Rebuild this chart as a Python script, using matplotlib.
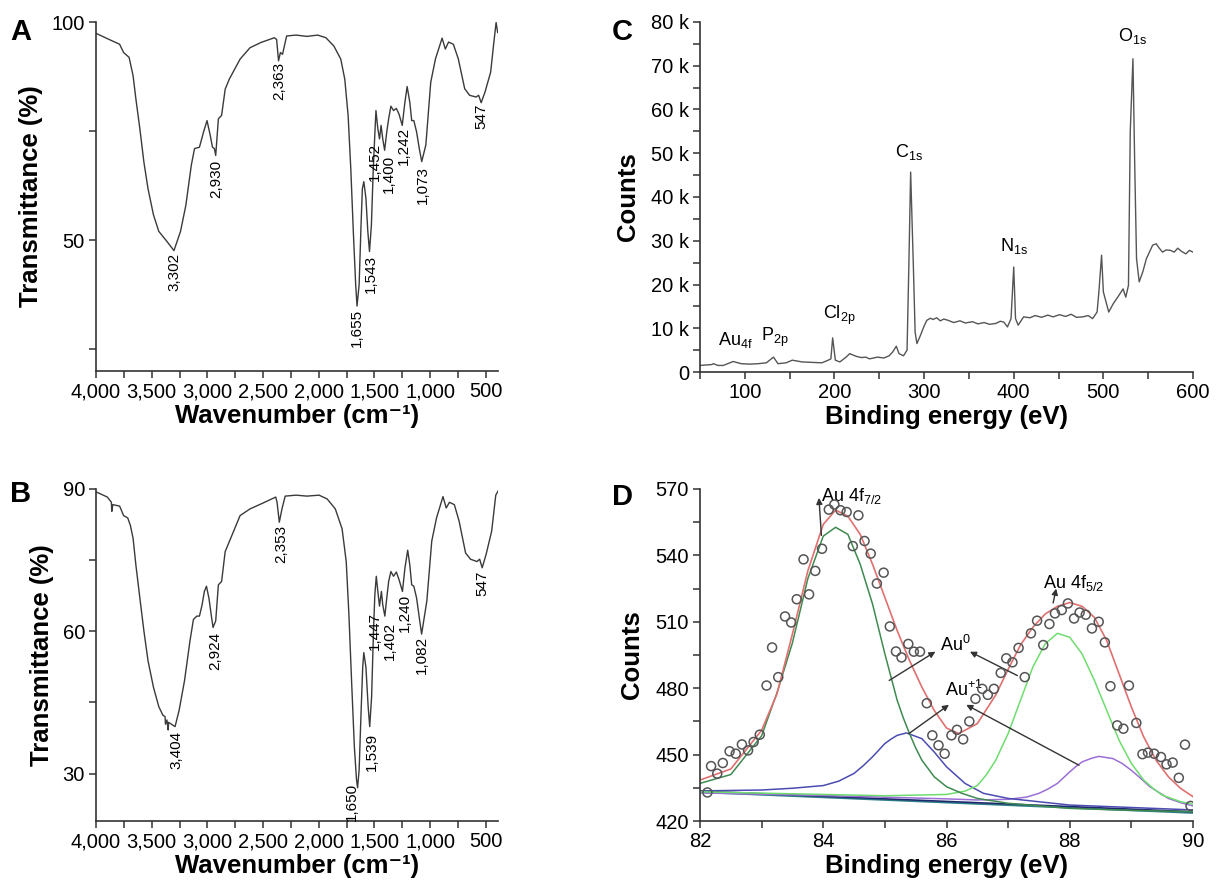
import matplotlib
matplotlib.use('Agg')
import matplotlib.pyplot as plt
from matplotlib.ticker import FuncFormatter, MultipleLocator, FixedLocator

plt.rcParams['font.family'] = ['Liberation Sans', 'DejaVu Sans']
plt.rcParams['mathtext.fontset'] = 'custom'
plt.rcParams['mathtext.rm'] = 'Liberation Sans'
plt.rcParams['mathtext.it'] = 'Liberation Sans:italic'
plt.rcParams['mathtext.bf'] = 'Liberation Sans:bold'

# ---------------- data ----------------
# Panel A: FTIR spectrum 1
a_wn = [4000, 3874, 3788, 3752, 3703, 3667, 3642, 3606, 3570, 3533, 3484, 3436, 3363, 3300,
        3241, 3193, 3144, 3115, 3071, 3034, 3003, 2974, 2954, 2937, 2925, 2901, 2872, 2840,
        2803, 2706, 2617, 2519, 2398, 2378, 2361, 2344, 2325, 2288, 2203, 2106, 2009, 1936,
        1864, 1802, 1766, 1736, 1712, 1688, 1668, 1656, 1637, 1620, 1608, 1595, 1576, 1559,
        1544, 1527, 1510, 1498, 1486, 1469, 1454, 1440, 1425, 1408, 1389, 1372, 1352, 1328,
        1303, 1279, 1250, 1226, 1206, 1182, 1165, 1146, 1121, 1097, 1075, 1038, 994, 951,
        892, 863, 834, 791, 747, 689, 645, 587, 564, 541, 506, 456, 427, 407, 393]
a_t = [97.4, 95.9, 94.9, 93.0, 91.9, 87.7, 82.4, 75.5, 67.9, 61.8, 55.8, 52.0, 49.7, 47.6,
       52.0, 58.0, 67.2, 71.0, 71.3, 74.8, 77.4, 74.0, 71.3, 71.0, 69.4, 77.8, 78.6, 84.6,
       86.9, 91.5, 94.1, 95.3, 96.4, 96.0, 91.1, 93.0, 92.6, 96.8, 97.0, 96.7, 97.0, 96.4,
       94.5, 91.5, 86.9, 78.6, 66.4, 51.2, 39.8, 34.9, 39.8, 53.4, 61.8, 63.4, 59.6, 52.0,
       47.4, 53.4, 66.4, 73.2, 79.7, 75.5, 73.2, 76.3, 73.2, 70.6, 74.8, 77.8, 80.7, 79.7,
       80.2, 78.9, 76.3, 81.6, 85.2, 81.6, 77.4, 77.4, 74.8, 71.0, 68.0, 71.8, 86.2, 91.6,
       96.3, 93.8, 95.4, 94.9, 91.6, 84.7, 83.2, 82.8, 83.2, 81.5, 84.0, 88.5, 95.4, 99.9, 97.6]
a_peak_labels = ['3,302', '2,930', '2,363', '1,655', '1,543', '1,452', '1,400', '1,242', '1,073', '547']
a_peak_x = [3291, 2919, 2355, 1657, 1532, 1492, 1368, 1233, 1067, 538]
a_peak_y = [47.1, 68.4, 90.8, 34.2, 46.7, 72.2, 69.5, 76.0, 67.0, 81.3]

# Panel B: FTIR spectrum 2
b_wn = [4000, 3898, 3862, 3858, 3849, 3788, 3752, 3715, 3691, 3667, 3642, 3606, 3570, 3533,
        3484, 3436, 3399, 3380, 3376, 3363, 3352, 3348, 3290, 3253, 3205, 3156, 3125, 3095,
        3071, 3047, 3027, 3008, 2986, 2962, 2949, 2925, 2901, 2872, 2840, 2803, 2706, 2617,
        2495, 2386, 2374, 2354, 2330, 2301, 2203, 2106, 1997, 1924, 1851, 1790, 1753, 1729,
        1705, 1680, 1661, 1651, 1637, 1620, 1605, 1595, 1576, 1556, 1542, 1525, 1508, 1496,
        1483, 1469, 1454, 1437, 1425, 1406, 1389, 1372, 1352, 1328, 1303, 1279, 1248, 1226,
        1201, 1182, 1165, 1146, 1121, 1097, 1076, 1029, 985, 942, 884, 855, 826, 782, 739,
        681, 637, 579, 555, 532, 497, 447, 410, 384]
b_t = [89.4, 88.3, 87.2, 85.3, 86.7, 86.4, 84.4, 83.9, 82.3, 79.6, 74.0, 67.0, 60.1, 53.8,
       48.2, 44.1, 42.3, 42.0, 40.4, 41.3, 39.2, 40.8, 39.9, 43.4, 49.6, 58.0, 62.5, 63.2,
       63.2, 65.6, 68.4, 69.5, 67.0, 62.9, 60.8, 62.2, 69.8, 70.5, 76.8, 78.9, 84.4, 85.8,
       87.1, 88.3, 87.2, 83.0, 85.8, 88.5, 88.7, 88.5, 88.7, 87.9, 85.8, 81.6, 74.7, 63.6,
       49.6, 35.7, 28.8, 27.0, 30.8, 42.7, 52.4, 55.5, 52.4, 44.1, 39.9, 46.2, 60.1, 67.7,
       71.6, 68.4, 65.3, 68.4, 65.6, 63.2, 67.0, 70.5, 72.6, 71.6, 72.5, 70.9, 68.4, 73.3,
       77.1, 74.0, 69.8, 69.5, 67.0, 62.9, 59.4, 66.4, 79.0, 83.9, 88.4, 86.0, 87.2, 86.7, 83.2,
       76.5, 75.2, 74.7, 75.2, 73.4, 76.2, 81.1, 88.7, 89.8]
b_peak_labels = ['3,404', '2,924', '2,353', '1,650', '1,539', '1,447', '1,402', '1,240', '1,082', '547']
b_peak_x = [3282, 2927, 2337, 1706, 1523, 1492, 1365, 1227, 1073, 535]
b_peak_y = [38.9, 59.8, 82.5, 28.1, 38.6, 64.0, 61.9, 67.8, 59.1, 72.7]

# Panel C: XPS survey (binding energy eV, counts in thousands)
c_be = [50, 63, 65, 70, 76, 87, 96, 105, 115, 124, 132, 137, 146, 153, 164, 175, 186, 193,
        196, 198, 201, 206, 213, 217, 224, 230, 235, 239, 248, 255, 261, 265, 269, 272, 277,
        281, 283, 285, 288, 290, 292, 296, 300, 303, 307, 310, 314, 318, 322, 327, 333, 340,
        346, 354, 360, 367, 373, 380, 385, 389, 393, 397, 400, 402, 405, 411, 418, 424, 431,
        438, 444, 451, 458, 464, 470, 477, 483, 488, 493, 495, 498, 500, 503, 506, 511, 516,
        522, 525, 528, 530, 533, 535, 537, 540, 544, 548, 555, 559, 562, 566, 570, 575, 579,
        583, 587, 592, 596, 600]
c_counts = [1.5, 1.7, 1.9, 1.5, 1.5, 2.4, 1.9, 1.8, 1.9, 2.1, 3.4, 1.9, 2.1, 2.7, 2.3, 2.2, 2.1,
            2.7, 3.0, 7.8, 2.7, 2.3, 3.4, 4.2, 3.6, 3.3, 3.4, 3.0, 3.4, 3.2, 3.7, 4.6, 5.9, 4.2,
            3.7, 5.0, 24.4, 45.7, 24.4, 9.1, 6.5, 8.4, 10.5, 11.8, 12.3, 12.0, 12.4, 11.7, 12.1,
            11.8, 11.3, 11.7, 11.2, 11.5, 11.0, 11.3, 10.9, 11.1, 11.6, 11.4, 10.3, 12.2, 24.0,
            12.2, 10.7, 12.6, 12.4, 12.9, 12.5, 13.0, 12.6, 13.1, 12.7, 13.2, 12.5, 12.6, 12.9,
            12.2, 13.7, 18.3, 26.7, 18.3, 16.0, 13.7, 15.6, 17.1, 19.0, 17.1, 19.8, 54.9, 71.6,
            47.2, 25.9, 20.6, 22.9, 25.9, 29.0, 29.3, 28.4, 27.4, 27.9, 27.8, 27.4, 28.3, 27.6,
            27.0, 27.8, 27.4]
c_labels = ['Au$_{\\mathrm{4f}}$', 'P$_{\\mathrm{2p}}$', 'Cl$_{\\mathrm{2p}}$',
            'C$_{\\mathrm{1s}}$', 'N$_{\\mathrm{1s}}$', 'O$_{\\mathrm{1s}}$']
c_label_x = [90, 134, 205, 283, 400, 532]
c_label_y = [5.0, 5.2, 10.3, 48.0, 26.5, 74.6]

# Panel D: Au 4f high-resolution XPS
d_be = [82.12, 82.18, 82.28, 82.37, 82.48, 82.58, 82.68, 82.78, 82.87, 82.97, 83.08, 83.17,
        83.27, 83.38, 83.48, 83.57, 83.68, 83.77, 83.87, 83.98, 84.09, 84.18, 84.28, 84.38,
        84.48, 84.57, 84.67, 84.77, 84.87, 84.98, 85.08, 85.18, 85.27, 85.38, 85.47, 85.57,
        85.68, 85.77, 85.87, 85.97, 86.08, 86.17, 86.27, 86.37, 86.47, 86.58, 86.67, 86.77,
        86.88, 86.97, 87.07, 87.17, 87.27, 87.37, 87.47, 87.57, 87.67, 87.76, 87.87, 87.97,
        88.07, 88.16, 88.26, 88.36, 88.47, 88.57, 88.66, 88.77, 88.87, 88.96, 89.08, 89.18,
        89.27, 89.37, 89.48, 89.57, 89.67, 89.77, 89.87, 89.96]
d_counts = [432.9, 444.8, 441.4, 446.2, 451.5, 450.4, 454.6, 451.9, 455.7, 459.0, 481.2, 498.4,
            485.0, 512.4, 509.7, 520.2, 538.2, 522.4, 533.0, 543.0, 560.7, 563.0, 560.4, 559.6,
            544.2, 558.1, 546.5, 540.8, 527.3, 532.2, 507.9, 496.6, 493.9, 500.0, 496.5, 496.5,
            473.2, 458.7, 454.2, 450.4, 458.7, 461.2, 456.9, 465.0, 475.2, 479.7, 477.0, 479.7,
            486.9, 493.5, 491.7, 498.2, 485.0, 504.8, 510.5, 499.5, 509.0, 513.8, 515.3, 518.3,
            511.5, 514.2, 513.2, 507.0, 510.0, 500.7, 480.9, 463.2, 461.7, 481.2, 464.3, 450.2,
            450.9, 450.4, 448.9, 445.6, 446.4, 439.5, 454.5, 426.8]
# fitted envelope
env_be = [82.0, 82.5, 83.0, 83.25, 83.5, 83.75, 84.0, 84.2, 84.4, 84.6, 84.8, 85.0, 85.2, 85.4,
          85.6, 85.8, 86.0, 86.2, 86.5, 86.8, 87.0, 87.2, 87.4, 87.6, 87.8, 88.0, 88.2, 88.4,
          88.6, 88.8, 89.0, 89.2, 89.4, 89.6, 89.8, 90.0]
env_c = [438.5, 443.5, 461.0, 477.5, 504.5, 533.0, 554.0, 560.5, 557.7, 549.5, 536.0, 521.0,
         506.0, 492.5, 480.5, 470.0, 462.0, 459.5, 464.0, 477.0, 488.5, 499.5, 507.5, 513.5,
         517.0, 518.7, 517.0, 512.0, 501.5, 486.5, 471.5, 458.0, 447.5, 440.0, 434.7, 431.0]
# Au0 4f7/2 component
au0a_be = [82.0, 82.5, 83.0, 83.25, 83.5, 83.75, 84.0, 84.2, 84.4, 84.6, 84.8, 85.0, 85.1, 85.2,
           85.3, 85.4, 85.5, 85.6, 85.8, 86.0, 86.25, 86.5, 87.0, 88.0, 89.0, 90.0]
au0a_c = [437.0, 441.0, 458.5, 478.0, 500.5, 529.5, 548.7, 552.7, 549.5, 536.0, 518.0, 495.5,
          485.0, 474.5, 466.5, 459.5, 453.0, 447.5, 440.0, 435.5, 432.5, 430.2, 428.0, 425.7,
          424.8, 424.2]
# Au0 4f5/2 component
au0b_be = [82.0, 84.0, 85.0, 86.0, 86.3, 86.5, 86.65, 86.8, 87.0, 87.2, 87.4, 87.6, 87.8, 88.0,
           88.2, 88.4, 88.6, 88.8, 89.0, 89.2, 89.35, 89.5, 89.8, 90.0]
au0b_c = [433.2, 432.0, 431.4, 432.0, 433.5, 436.0, 441.0, 447.5, 459.5, 474.5, 489.5, 500.0,
          504.8, 503.0, 495.5, 483.5, 470.0, 456.5, 446.0, 438.5, 434.8, 431.7, 428.7, 427.6]
# Au+1 4f7/2 component
au1a_be = [82.0, 83.0, 83.5, 84.0, 84.25, 84.5, 84.65, 84.8, 85.0, 85.1, 85.2, 85.35, 85.6,
           85.8, 86.0, 86.3, 86.6, 87.0, 88.0, 90.0]
au1a_c = [433.6, 434.0, 434.8, 436.0, 438.0, 441.5, 445.0, 449.0, 455.0, 457.0, 458.7, 459.8,
          457.2, 451.2, 444.5, 437.0, 432.5, 430.2, 427.2, 425.0]
# Au+1 4f5/2 component
au1b_be = [82.0, 84.0, 86.0, 86.5, 87.0, 87.3, 87.5, 87.65, 87.8, 88.0, 88.1, 88.2, 88.35, 88.47,
           88.7, 88.85, 89.0, 89.15, 89.3, 89.6, 89.8, 90.0]
au1b_c = [432.7, 431.5, 430.0, 429.5, 429.8, 430.8, 432.5, 434.5, 437.0, 442.2, 444.6, 446.7,
          448.3, 449.2, 448.2, 446.0, 442.9, 439.3, 435.5, 430.2, 428.3, 426.8]
# backgrounds
bg_be = [82.0, 90.0]
bg1_c = [433.5, 424.2]
bg2_c = [433.0, 423.6]

# ---------------- figure ----------------
W, H = 1227, 890
fig = plt.figure(figsize=(W / 100, H / 100), dpi=100)


def ax_px(l, t, r, b):
    return fig.add_axes([l / W, 1 - b / H, (r - l) / W, (b - t) / H])


TICK_FS = 14.5
LAB_FS = 18.5
ANN_FS = 11
LINE_C = '#3a3a3a'


def style(ax):
    for s in ('top', 'right'):
        ax.spines[s].set_visible(False)
    for s in ('left', 'bottom'):
        ax.spines[s].set_linewidth(1.2)
        ax.spines[s].set_color('#333333')
    ax.tick_params(which='both', direction='out', length=5, width=1.1, color='#333333',
                   labelsize=TICK_FS, pad=3)


comma = FuncFormatter(lambda v, p: f'{int(v):,}')

# Panel A
axA = ax_px(96, 22, 498, 371)
axA.plot(a_wn, a_t, color=LINE_C, lw=1.0)
axA.set_xlim(4000, 390)
axA.set_ylim(20, 100)
axA.xaxis.set_major_locator(FixedLocator([4000, 3500, 3000, 2500, 2000, 1500, 1000, 500]))
axA.xaxis.set_minor_locator(FixedLocator([3750, 3250, 2750, 2250, 1750, 1250, 750]))
axA.xaxis.set_major_formatter(comma)
axA.yaxis.set_major_locator(FixedLocator([50, 100]))
axA.yaxis.set_minor_locator(FixedLocator([25, 75]))
style(axA)
for t, x, y in zip(a_peak_labels, a_peak_x, a_peak_y):
    axA.text(x, y, t, rotation=90, ha='center', va='top', fontsize=ANN_FS)
axA.set_xlabel('Wavenumber (cm\u207b\u00b9)', fontsize=LAB_FS, fontweight='bold', labelpad=2)
axA.set_ylabel('Transmittance (%)', fontsize=LAB_FS, fontweight='bold', labelpad=6)

# Panel B
axB = ax_px(96, 489, 498, 821)
axB.plot(b_wn, b_t, color=LINE_C, lw=1.0)
axB.set_xlim(4000, 390)
axB.set_ylim(20, 90)
axB.xaxis.set_major_locator(FixedLocator([4000, 3500, 3000, 2500, 2000, 1500, 1000, 500]))
axB.xaxis.set_minor_locator(FixedLocator([3750, 3250, 2750, 2250, 1750, 1250, 750]))
axB.xaxis.set_major_formatter(comma)
axB.yaxis.set_major_locator(FixedLocator([30, 60, 90]))
axB.yaxis.set_minor_locator(FixedLocator([45, 75]))
style(axB)
for t, x, y in zip(b_peak_labels, b_peak_x, b_peak_y):
    axB.text(x, y, t, rotation=90, ha='center', va='top', fontsize=ANN_FS)
axB.set_xlabel('Wavenumber (cm\u207b\u00b9)', fontsize=LAB_FS, fontweight='bold', labelpad=2)
axB.set_ylabel('Transmittance (%)', fontsize=LAB_FS, fontweight='bold', labelpad=6)

# Panel C
axC = ax_px(700, 22, 1193, 372)
axC.plot(c_be, c_counts, color='#555555', lw=1.0)
axC.set_xlim(50, 600)
axC.set_ylim(0, 80)
axC.xaxis.set_major_locator(MultipleLocator(100))
axC.xaxis.set_minor_locator(MultipleLocator(50))
axC.yaxis.set_major_locator(MultipleLocator(10))
axC.yaxis.set_minor_locator(MultipleLocator(5))
axC.yaxis.set_major_formatter(FuncFormatter(lambda v, p: '0' if v == 0 else f'{int(v)} k'))
style(axC)
for t, x, y in zip(c_labels, c_label_x, c_label_y):
    axC.text(x, y, t, ha='center', va='bottom', fontsize=13)
axC.set_xlabel('Binding energy (eV)', fontsize=LAB_FS, fontweight='bold', labelpad=2)
axC.set_ylabel('Counts', fontsize=LAB_FS, fontweight='bold', labelpad=8)

# Panel D
axD = ax_px(700, 489, 1193, 821)
axD.plot(bg_be, bg2_c, color='#2b7f86', lw=1.2)
axD.plot(bg_be, bg1_c, color='#1f2a6e', lw=1.2)
axD.plot(au1b_be, au1b_c, color='#9b6fd6', lw=1.1)
axD.plot(au1a_be, au1a_c, color='#4c4cb0', lw=1.1)
axD.plot(au0b_be, au0b_c, color='#6fdc6f', lw=1.1)
axD.plot(au0a_be, au0a_c, color='#3f8a50', lw=1.1)
axD.plot(env_be, env_c, color='#e07070', lw=1.2)
axD.scatter(d_be, d_counts, s=42, facecolors='none', edgecolors='#555555', linewidths=1.1, zorder=5)
axD.set_xlim(82, 90)
axD.set_ylim(420, 570)
axD.xaxis.set_major_locator(MultipleLocator(2))
axD.xaxis.set_minor_locator(MultipleLocator(1))
axD.yaxis.set_major_locator(MultipleLocator(30))
axD.yaxis.set_minor_locator(MultipleLocator(15))
style(axD)
arrow = dict(arrowstyle='-|>', color='#333333', lw=1.0, mutation_scale=9, shrinkA=0, shrinkB=0)
axD.annotate('', xy=(83.93, 566), xytext=(83.97, 549), arrowprops=arrow)
axD.text(83.96, 567, 'Au 4f$_{\\mathrm{7/2}}$', fontsize=13, ha='left', va='center')
axD.annotate('', xy=(87.78, 525), xytext=(87.73, 518.5), arrowprops=arrow)
axD.text(87.57, 527.5, 'Au 4f$_{\\mathrm{5/2}}$', fontsize=13, ha='left', va='center')
axD.text(85.9, 499.5, 'Au$^{\\mathrm{0}}$', fontsize=13, ha='left', va='center')
axD.annotate('', xy=(85.82, 496.5), xytext=(85.07, 483.5), arrowprops=arrow)
axD.annotate('', xy=(86.38, 496.5), xytext=(87.15, 485.7), arrowprops=arrow)
axD.text(85.97, 479, 'Au$^{\\mathrm{+1}}$', fontsize=13, ha='left', va='center')
axD.annotate('', xy=(86.04, 472.5), xytext=(85.39, 459.5), arrowprops=arrow)
axD.annotate('', xy=(86.32, 472.5), xytext=(88.15, 445.2), arrowprops=arrow)
axD.set_xlabel('Binding energy (eV)', fontsize=LAB_FS, fontweight='bold', labelpad=2)
axD.set_ylabel('Counts', fontsize=LAB_FS, fontweight='bold', labelpad=8)

# panel letters
for letter, x, y in [('A', 10, 18), ('B', 10, 480), ('C', 612, 18), ('D', 612, 483)]:
    fig.text(x / W, 1 - y / H, letter, fontsize=21, fontweight='bold', ha='left', va='top')

fig.savefig('out.png', dpi=100)
